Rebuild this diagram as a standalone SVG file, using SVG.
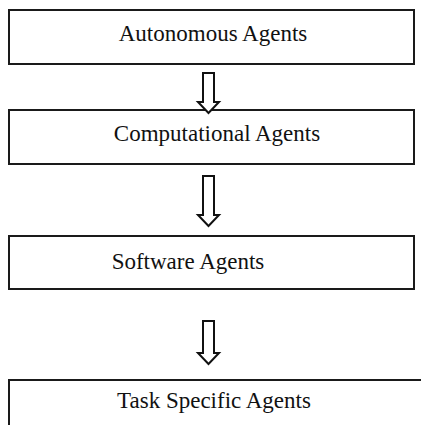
<svg xmlns="http://www.w3.org/2000/svg" width="421" height="425" viewBox="0 0 421 425">
<style>
.box{fill:#fff;stroke:#1a1a1a;stroke-width:2}
.lbl{font-family:"Liberation Serif","Times New Roman",serif;font-size:23px;fill:#111;text-anchor:middle}
.arr{fill:#fff;stroke:#111;stroke-width:2;stroke-linejoin:miter}
</style>
<rect width="421" height="425" fill="#fff"/>
<g id="autonomous">
<rect class="box" x="9" y="10" width="405" height="54"/>
<text class="lbl" x="213" y="41">Autonomous Agents</text>
</g>
<g id="computational">
<rect class="box" x="9" y="110" width="405" height="54"/>
<text class="lbl" x="217" y="141">Computational Agents</text>
</g>
<g id="software">
<rect class="box" x="9" y="236" width="405" height="53"/>
<text class="lbl" x="188" y="269">Software Agents</text>
</g>
<g id="task">
<rect class="box" x="9" y="380" width="420" height="60"/>
<text class="lbl" x="214" y="408">Task Specific Agents</text>
</g>
<g id="connectors">
<polygon class="arr" points="203,73 214,73 214,102 219,102 208.5,113 198,102 203,102"/>
<polygon class="arr" points="203,176 214,176 214,215 219,215 208.5,226 198,215 203,215"/>
<polygon class="arr" points="203,321 214,321 214,353 219,353 208.5,364 198,353 203,353"/>
</g>
</svg>
